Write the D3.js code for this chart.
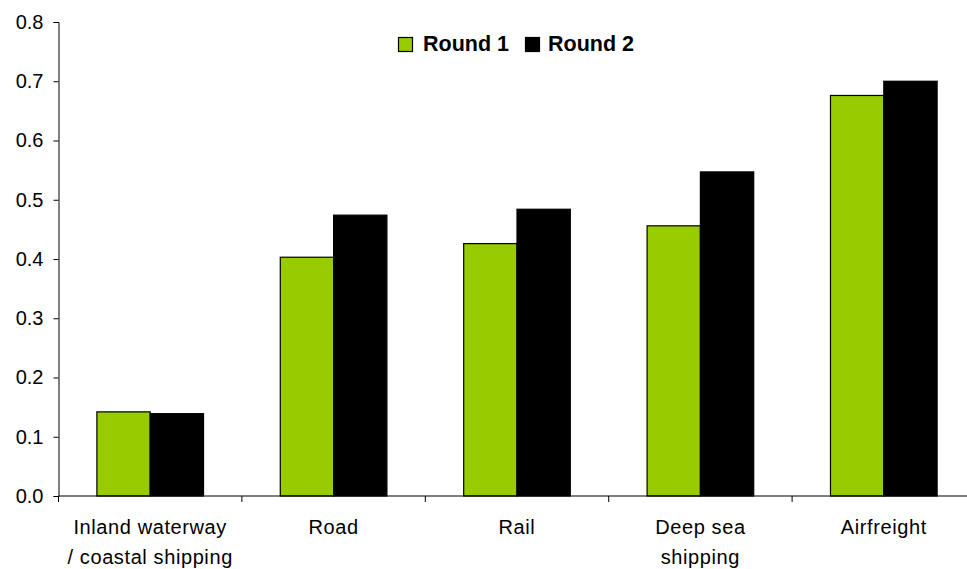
<!DOCTYPE html>
<html>
<head>
<meta charset="utf-8">
<script src="https://cdn.jsdelivr.net/npm/d3@7"></script>
<style>
  html, body { margin: 0; padding: 0; background: #fff; }
  svg { display: block; }
  text { font-family: "Liberation Sans", Arial, sans-serif; fill: #000; }
</style>
</head>
<body>
<svg id="chart" width="967" height="569"></svg>
<script>
const categories = [
  ["Inland waterway", "/ coastal shipping"],
  ["Road"],
  ["Rail"],
  ["Deep sea", "shipping"],
  ["Airfreight"]
];
const seriesNames = ["Round 1", "Round 2"];
const round1 = [0.142, 0.403, 0.426, 0.456, 0.676];
const round2 = [0.139, 0.474, 0.484, 0.547, 0.700];
const yTicks = [0.0, 0.1, 0.2, 0.3, 0.4, 0.5, 0.6, 0.7, 0.8];
const colors = ["#99CC00", "#000000"];

const svg = d3.select("#chart");
const mLeft = 58.5, mTop = 22, mBottom = 496, mRight = 975.5;

const y = d3.scaleLinear().domain([0, 0.8]).range([mBottom, mTop]);
const x0 = d3.scaleBand().domain(d3.range(categories.length)).range([mLeft, mRight])
  .paddingInner(0).paddingOuter(0);
const x1 = d3.scaleBand().domain(d3.range(seriesNames.length))
  .range([0, x0.bandwidth()]).paddingOuter(0.72).paddingInner(0);

// bars
const groups = svg.append("g").selectAll("g")
  .data(categories.map((c, i) => i)).join("g")
  .attr("transform", i => `translate(${x0(i)},0)`);
groups.selectAll("rect")
  .data(i => [round1[i], round2[i]].map((v, s) => ({ v, s })))
  .join("rect")
  .attr("x", d => x1(d.s))
  .attr("y", d => y(d.v))
  .attr("width", x1.bandwidth())
  .attr("height", d => mBottom - y(d.v))
  .attr("fill", d => colors[d.s])
  .attr("stroke", "#000")
  .attr("stroke-width", 1.2);

// y axis
const yAxis = d3.axisLeft(y).tickValues(yTicks).tickFormat(d3.format(".1f")).tickSizeOuter(0).tickSize(5).tickPadding(10);
const gy = svg.append("g").attr("transform", `translate(${mLeft},0)`).call(yAxis);
gy.select(".domain").attr("stroke", "#000").attr("stroke-width", 1);
gy.selectAll(".tick line").attr("stroke", "#000");
gy.selectAll(".tick text").attr("font-size", 20).attr("font-family", "Liberation Sans, Arial, sans-serif").attr("fill", "#000");

// x axis
const boundaries = d3.range(categories.length + 1).map(i => mLeft + i * x0.step());
svg.append("line").attr("x1", mLeft).attr("x2", mRight).attr("y1", mBottom).attr("y2", mBottom)
  .attr("stroke", "#000").attr("stroke-width", 1);
svg.append("g").selectAll("line").data(boundaries).join("line")
  .attr("x1", d => d).attr("x2", d => d).attr("y1", mBottom).attr("y2", mBottom + 6)
  .attr("stroke", "#000");

const labels = svg.append("g").selectAll("text").data(categories.map((c, i) => i)).join("text")
  .attr("text-anchor", "middle")
  .attr("font-size", 20)
  .attr("letter-spacing", 0.6)
  .attr("x", i => x0(i) + x0.bandwidth() / 2)
  .attr("y", 534);
labels.selectAll("tspan").data(i => categories[i]).join("tspan")
  .attr("x", function () { return d3.select(this.parentNode).attr("x"); })
  .attr("dy", (d, j) => j === 0 ? 0 : 29.5)
  .text(d => d);

// legend
const legendItems = [
  { name: seriesNames[0], color: colors[0], bx: 398.5, tx: 423 },
  { name: seriesNames[1], color: colors[1], bx: 525.5, tx: 548 }
];
const lg = svg.append("g");
lg.selectAll("rect").data(legendItems).join("rect")
  .attr("x", d => d.bx).attr("y", 37.5).attr("width", 14).attr("height", 14)
  .attr("fill", d => d.color).attr("stroke", "#000").attr("stroke-width", 1.2);
lg.selectAll("text").data(legendItems).join("text")
  .attr("x", d => d.tx).attr("y", 51)
  .attr("font-size", 21.5).attr("font-weight", "bold")
  .text(d => d.name);
</script>
</body>
</html>
